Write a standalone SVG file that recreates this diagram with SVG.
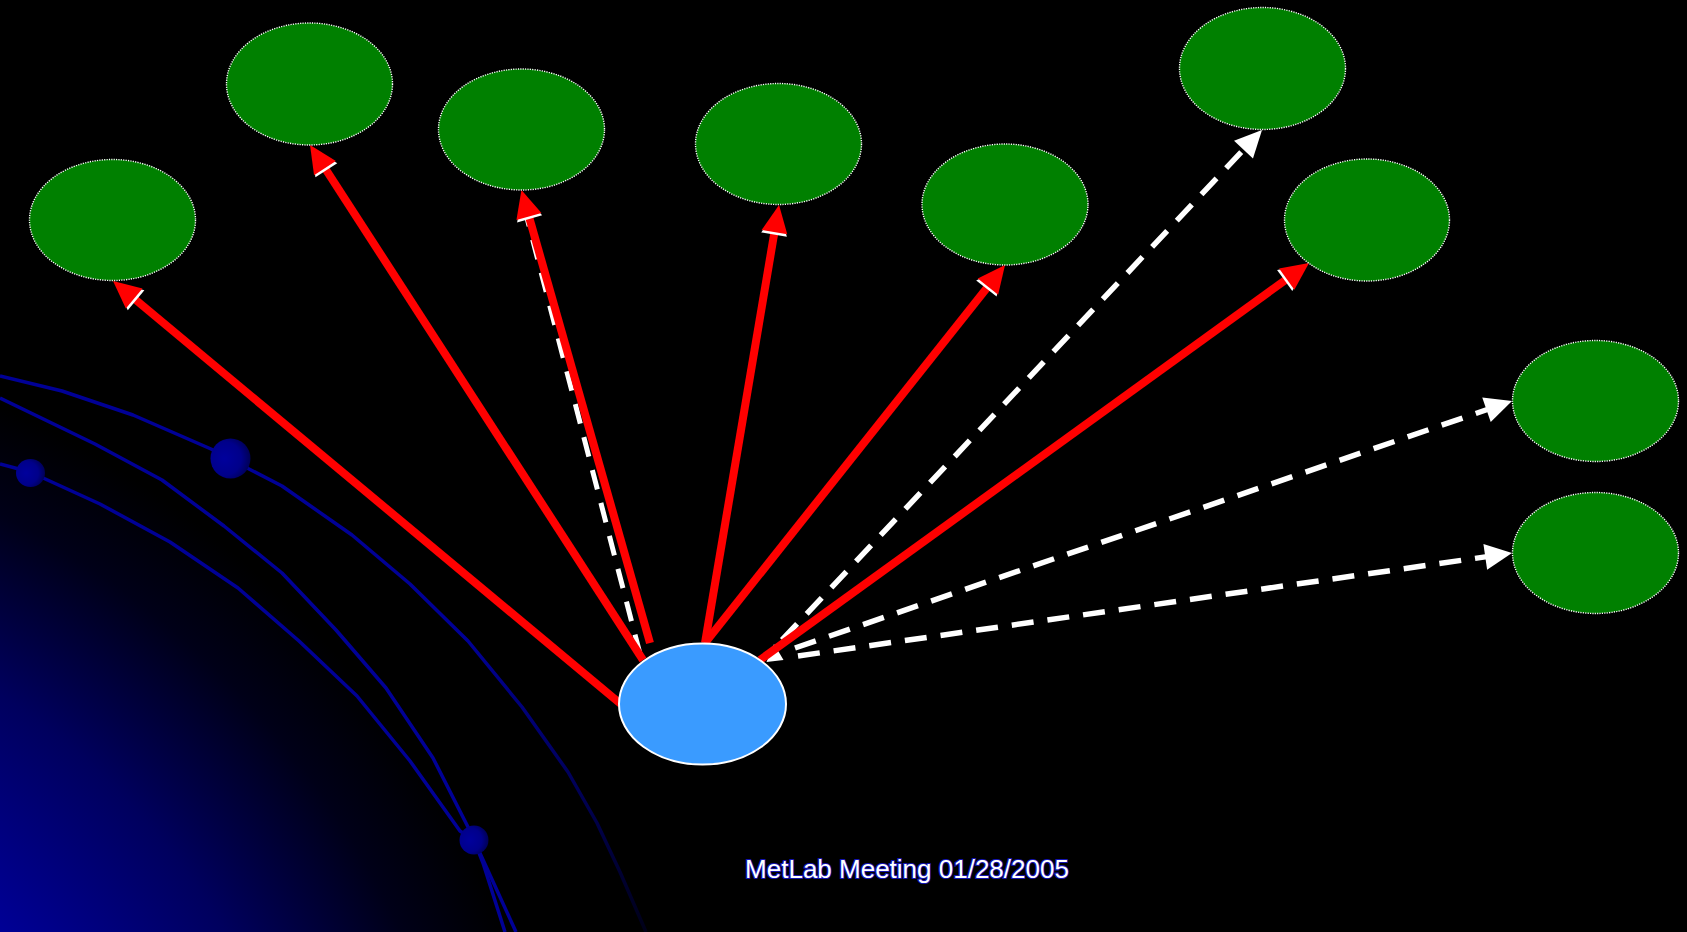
<svg xmlns="http://www.w3.org/2000/svg" width="1687" height="932" viewBox="0 0 1687 932">
  <defs>
    <radialGradient id="glow" gradientUnits="userSpaceOnUse" cx="-400" cy="1300" r="980">
      <stop offset="0" stop-color="#0000b4"/>
      <stop offset="0.5" stop-color="#0000a6"/>
      <stop offset="0.74" stop-color="#00005e"/>
      <stop offset="0.9" stop-color="#000018"/>
      <stop offset="1" stop-color="#000000"/>
    </radialGradient>
    <radialGradient id="sphere" cx="0.35" cy="0.5" r="0.7">
      <stop offset="0" stop-color="#00009c"/>
      <stop offset="0.6" stop-color="#00008a"/>
      <stop offset="1" stop-color="#00004a"/>
    </radialGradient>
    <linearGradient id="orbitFade" gradientUnits="userSpaceOnUse" x1="0" y1="640" x2="0" y2="932">
      <stop offset="0" stop-color="#000096"/>
      <stop offset="1" stop-color="#000018"/>
    </linearGradient>
    <marker id="redHead" markerUnits="userSpaceOnUse" orient="auto" viewBox="-14 -16 38 32" markerWidth="38" markerHeight="32" refX="0" refY="0" overflow="visible">
      <path d="M17.5,0 L-10,-13 L-10,13 Z" fill="#ffffff"/>
      <path d="M20,0 L-7.5,-13 L-7.5,13 Z" fill="#ff0000"/>
    </marker>
    <marker id="whiteHead" markerUnits="userSpaceOnUse" orient="auto" viewBox="-14 -16 38 32" markerWidth="38" markerHeight="32" refX="0" refY="0" overflow="visible">
      <path d="M20,0 L-7,-13 L-7,13 Z" fill="#ffffff"/>
    </marker>
    <style>
      .orbit { fill: none; stroke: #000096; stroke-width: 3.5; stroke-linejoin: round; }
      .leaf { fill: #008000; stroke: #ffffff; stroke-width: 1.4; stroke-dasharray: 1.2 1.2; }
      .source { fill: #3a9bff; stroke: #ffffff; stroke-width: 2; }
      .red { fill: none; stroke: #ff0000; stroke-width: 8; marker-end: url(#redHead); }
      .dash { fill: none; stroke: #ffffff; stroke-width: 5.5; stroke-dasharray: 22 14; marker-end: url(#whiteHead); }
      .dash-plain { fill: none; stroke: #ffffff; stroke-width: 5; stroke-dasharray: 20 14; }
      .caption { font-family: "Liberation Sans", Arial, sans-serif; font-size: 26px; fill: #ffffff; stroke: #1414b0; stroke-width: 2.2; paint-order: stroke; }
    </style>
  </defs>

  <!-- backdrop -->
  <rect x="0" y="0" width="1687" height="932" fill="#000000"/>
  <rect x="0" y="0" width="1687" height="932" fill="url(#glow)"/>

  <!-- orbits and planets -->
  <g id="orbits">
    <path class="orbit" style="stroke:url(#orbitFade)" d="M0,376 L62,391 L133,415 L211,449 L249,469 L282,486 L352,535 L410,584 L468,641 L522,707 L568,772 L597,823 L620,872 L646,932"/>
    <path class="orbit" d="M0,398 L95,444 L162,480 L224,526 L282,573 L336,630 L386,688 L433,758 L468,827 L495,886 L516,932"/>
    <path class="orbit" d="M0,464 L30,472 L100,504 L170,542 L238,588 L299,641 L357,696 L410,761 L460,831 L474,840 L483,863 L505,932"/>
    <ellipse cx="230.5" cy="458.5" rx="20" ry="20" fill="url(#sphere)"/>
    <ellipse cx="30.5" cy="473" rx="14.5" ry="14" fill="url(#sphere)"/>
    <ellipse cx="474" cy="840" rx="14.5" ry="14.5" fill="url(#sphere)"/>
  </g>

  <!-- connectors -->
  <g id="connectors">
    <path class="dash-plain" d="M640,654 L526,214"/>
    <path class="dash" d="M782,640 L1248.3,144.6"/>
    <path class="dash" d="M795,648 L1493.1,407.5"/>
    <path class="dash" d="M798,656 L1492.2,555.9"/>
    <polygon points="774,644 783.5,660 766.5,662" fill="#ffffff"/>
    <path class="red" d="M622,705 L128.4,293.8"/>
    <path class="red" d="M643,660 L320.9,161.8"/>
    <path class="red" d="M650,643 L526.9,209.3"/>
    <path class="red" d="M705,643 L775.7,224.7"/>
    <path class="red" d="M705,643 L992.6,280.7"/>
    <path class="red" d="M760,660 L1292.8,274.7"/>
  </g>

  <!-- nodes -->
  <g id="node-source"><ellipse class="source" cx="702.5" cy="704" rx="83.5" ry="60.5"/></g>
  <g id="node-1"><ellipse class="leaf" cx="112.5" cy="220" rx="83" ry="60.5"/></g>
  <g id="node-2"><ellipse class="leaf" cx="309.5" cy="84" rx="83" ry="61"/></g>
  <g id="node-3"><ellipse class="leaf" cx="521.5" cy="129.5" rx="83" ry="60.5"/></g>
  <g id="node-4"><ellipse class="leaf" cx="778.5" cy="144" rx="83" ry="60.5"/></g>
  <g id="node-5"><ellipse class="leaf" cx="1005" cy="204.5" rx="83" ry="60.5"/></g>
  <g id="node-6"><ellipse class="leaf" cx="1262.5" cy="68.5" rx="83" ry="61"/></g>
  <g id="node-7"><ellipse class="leaf" cx="1367" cy="220" rx="82.5" ry="61"/></g>
  <g id="node-8"><ellipse class="leaf" cx="1595.5" cy="401" rx="83" ry="60.5"/></g>
  <g id="node-9"><ellipse class="leaf" cx="1595.5" cy="553" rx="83" ry="60.5"/></g>

  <text class="caption" x="907" y="878" text-anchor="middle">MetLab Meeting 01/28/2005</text>
</svg>
